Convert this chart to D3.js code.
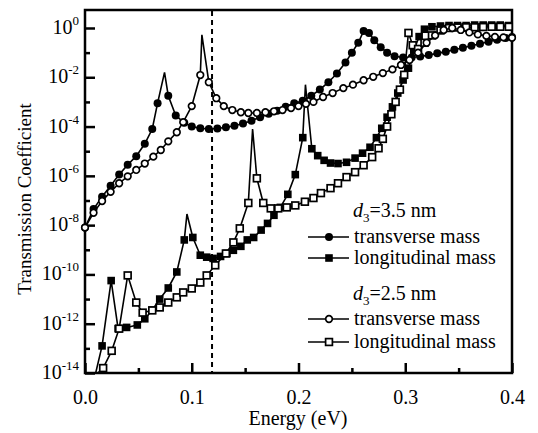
<!DOCTYPE html>
<html>
<head>
<meta charset="utf-8">
<script src="https://cdn.jsdelivr.net/npm/d3@7"></script>
<style>
  body { margin: 0; background: #fff; }
</style>
</head>
<body>
<script>
// energies (eV) and log10 of transmission
// d3 = 3.5 nm, transverse mass (filled circles)
let t35E = [0, 0.008, 0.016, 0.024, 0.032, 0.040, 0.048, 0.056, 0.063, 0.068, 0.078, 0.085, 0.093, 0.100, 0.108, 0.116, 0.124, 0.132, 0.140, 0.148, 0.156, 0.164, 0.172, 0.180, 0.188, 0.196, 0.204, 0.212, 0.220, 0.228, 0.236, 0.244, 0.250, 0.256, 0.261, 0.266, 0.271, 0.277, 0.283, 0.290, 0.298, 0.306, 0.314, 0.322, 0.330, 0.338, 0.346, 0.354, 0.362, 0.370, 0.378, 0.386, 0.394, 0.400]
let t35L = [-8.1, -7.35, -6.85, -6.4, -5.95, -5.55, -5.2, -4.7, -4.1, -3.05, -2.75, -3.55, -3.85, -4.0, -4.07, -4.1, -4.08, -4.03, -3.97, -3.88, -3.76, -3.62, -3.48, -3.36, -3.2, -3.05, -2.95, -2.75, -2.5, -2.2, -1.85, -1.4, -1.0, -0.6, -0.12, -0.2, -0.5, -0.78, -1.0, -1.15, -1.2, -1.2, -1.16, -1.1, -1.03, -0.96, -0.88, -0.8, -0.72, -0.64, -0.56, -0.48, -0.41, -0.37]
let t35TipE = [0.0745]
let t35TipL = [-1.8]

// d3 = 3.5 nm, longitudinal mass (filled squares)
let l35E = [0.016, 0.0245, 0.031, 0.039, 0.049, 0.056, 0.063, 0.070, 0.078, 0.086, 0.093, 0.101, 0.108, 0.114, 0.120, 0.127, 0.133, 0.139, 0.146, 0.152, 0.158, 0.165, 0.171, 0.177, 0.183, 0.190, 0.197, 0.204, 0.2125, 0.218, 0.224, 0.230, 0.237, 0.245, 0.253, 0.260, 0.267, 0.273, 0.278, 0.283, 0.288, 0.293, 0.298, 0.303, 0.308, 0.313, 0.318, 0.325, 0.333, 0.341, 0.349, 0.357, 0.365, 0.373, 0.381, 0.389, 0.397]
let l35L = [-12.9, -10.25, -12.2, -12.15, -12.05, -11.8, -11.45, -11.0, -10.55, -9.9, -8.6, -8.5, -9.22, -9.3, -9.35, -9.27, -9.15, -9.02, -8.86, -8.6, -8.5, -8.2, -7.93, -7.6, -7.28, -6.75, -5.95, -4.45, -4.9, -5.18, -5.37, -5.48, -5.5, -5.45, -5.28, -5.08, -4.84, -4.45, -4.07, -3.62, -3.2, -2.64, -2.11, -1.63, -0.9, -0.35, -0.05, 0.05, 0.08, 0.1, 0.1, 0.1, 0.12, 0.12, 0.12, 0.12, 0.1]
let l35TipE = [0.010, 0.0955, 0.2065]
let l35TipL = [-14.0, -7.55, -2.3]

// d3 = 2.5 nm, transverse mass (open circles)
let t25E = [0, 0.008, 0.016, 0.024, 0.032, 0.040, 0.048, 0.056, 0.064, 0.071, 0.078, 0.086, 0.092, 0.100, 0.108, 0.116, 0.123, 0.130, 0.138, 0.146, 0.153, 0.161, 0.169, 0.177, 0.185, 0.193, 0.200, 0.207, 0.214, 0.223, 0.232, 0.242, 0.251, 0.261, 0.270, 0.279, 0.288, 0.296, 0.304, 0.312, 0.320, 0.328, 0.336, 0.344, 0.352, 0.360, 0.368, 0.376, 0.384, 0.392, 0.400]
let t25L = [-8.1, -7.5, -7.02, -6.65, -6.3, -6.02, -5.76, -5.5, -5.22, -4.95, -4.6, -4.23, -3.82, -3.17, -1.91, -2.2, -2.85, -3.17, -3.33, -3.42, -3.45, -3.45, -3.42, -3.38, -3.33, -3.25, -3.17, -3.08, -3.0, -2.8, -2.64, -2.44, -2.3, -2.12, -1.98, -1.83, -1.68, -1.5, -1.3, -1.0, -0.6, -0.3, -0.08, 0.0, -0.08, -0.18, -0.26, -0.32, -0.36, -0.38, -0.4]
let t25TipE = [0.1095]
let t25TipL = [-0.28]

// d3 = 2.5 nm, longitudinal mass (open squares)
let l25E = [0.017, 0.025, 0.032, 0.040, 0.048, 0.054, 0.063, 0.070, 0.078, 0.086, 0.092, 0.100, 0.108, 0.114, 0.122, 0.132, 0.139, 0.145, 0.153, 0.161, 0.167, 0.174, 0.181, 0.189, 0.197, 0.206, 0.214, 0.221, 0.230, 0.237, 0.245, 0.253, 0.261, 0.269, 0.275, 0.279, 0.283, 0.287, 0.291, 0.295, 0.299, 0.303, 0.307, 0.312, 0.318, 0.325, 0.333, 0.341, 0.349, 0.357, 0.365, 0.373, 0.381, 0.389, 0.397]
let l25L = [-13.8, -13.1, -12.2, -10.04, -11.14, -11.55, -11.46, -11.34, -11.14, -10.93, -10.73, -10.57, -10.33, -10.04, -9.63, -9.15, -8.7, -8.13, -7.1, -6.1, -7.1, -7.32, -7.32, -7.28, -7.2, -7.05, -6.9, -6.7, -6.5, -6.3, -6.05, -5.85, -5.57, -5.24, -4.88, -4.5, -4.0, -3.5, -3.0, -2.5, -1.9, -0.2, -0.7, -0.85, -0.6, -0.3, -0.1, 0.0, 0.02, 0.03, 0.03, 0.04, 0.05, 0.05, 0.05]
let l25TipE = [0.012, 0.157]
let l25TipL = [-14.0, -4.1]

let xTicks = [0, 0.1, 0.2, 0.3, 0.4]
let xMinor = [0.05, 0.15, 0.25, 0.35]
let yExp = [0, -2, -4, -6, -8, -10, -12, -14]
let yMinorExp = [-1, -3, -5, -7, -9, -11, -13]
let markE = 0.119 // dashed reference line

const FONT = "'Liberation Serif'"

let svg = d3.select('body').append('svg')
            .attr('width', 538)
            .attr('height', 433)

let x = d3.scaleLinear().domain([0, 0.4]).range([85, 512])
let y = d3.scaleLog().domain([1e-14, Math.pow(10, 0.73)]).range([373, 10])

// axes, ticks inward
let gx = svg.append('g').attr('transform', 'translate(0,373)')
gx.call(d3.axisBottom(x).tickValues(xTicks).tickSize(-10).tickSizeOuter(0)
          .tickPadding(17).tickFormat(d3.format('.1f')))
gx.call(g => g.append('g').call(d3.axisBottom(x).tickValues(xMinor).tickSize(-5).tickFormat('')))
gx.selectAll('.domain').remove()
gx.selectAll('text').attr('font-size', 20)

let gy = svg.append('g').attr('transform', 'translate(85,0)')
gy.call(d3.axisLeft(y).tickValues(yExp.map(e => Math.pow(10, e))).tickSize(-10).tickFormat(''))
gy.call(g => g.append('g').call(d3.axisLeft(y).tickValues(yMinorExp.map(e => Math.pow(10, e))).tickSize(-5).tickFormat('')))
gy.selectAll('.domain').remove()
svg.selectAll('.tick line').attr('stroke', '#000').attr('stroke-width', 2.5)

// y tick labels as 10^n
let yl = svg.append('g').selectAll('text').data(yExp).enter()
            .append('text')
            .attr('x', 79)
            .attr('y', d => y(Math.pow(10, d)) + 6)
            .attr('text-anchor', 'end')
            .attr('font-size', 20)
yl.append('tspan').text('10')
yl.append('tspan').attr('font-size', 13).attr('dy', -9).text(d => d === 0 ? '0' : String(d))

// frame
svg.append('rect')
   .attr('x', 85).attr('y', 10).attr('width', 427).attr('height', 363)
   .attr('fill', 'none').attr('stroke', '#000').attr('stroke-width', 2.5)

// dashed line
svg.append('line')
   .attr('x1', x(markE)).attr('x2', x(markE))
   .attr('y1', 11).attr('y2', 372)
   .attr('stroke', '#000').attr('stroke-width', 2).attr('stroke-dasharray', '5,4')

// axis titles
svg.append('text').attr('x', 298).attr('y', 425).attr('text-anchor', 'middle')
   .attr('font-size', 20).text('Energy (eV)')
svg.append('text').attr('transform', 'translate(31,199) rotate(-90)')
   .attr('text-anchor', 'middle').attr('font-size', 19).text('Transmission Coefficient')

let line = d3.line().x(d => x(d[0])).y(d => y(Math.pow(10, d[1])))

function drawMarker(sel, kind) {
  if (kind === 'fc') sel.append('circle').attr('r', 4).attr('fill', '#000')
  if (kind === 'oc') sel.append('circle').attr('r', 3.3).attr('fill', '#fff').attr('stroke', '#000').attr('stroke-width', 1.7)
  if (kind === 'fs') sel.append('rect').attr('x', -3.8).attr('y', -3.8).attr('width', 7.6).attr('height', 7.6).attr('fill', '#000')
  if (kind === 'os') sel.append('rect').attr('x', -3.4).attr('y', -3.4).attr('width', 6.8).attr('height', 6.8).attr('fill', '#fff').attr('stroke', '#000').attr('stroke-width', 1.7)
}

function drawSeries(E, L, tipE, tipL, kind) {
  let pts = E.map((e, i) => [e, L[i]])
  let all = pts.concat(tipE.map((e, i) => [e, tipL[i]])).sort((a, b) => a[0] - b[0])
  svg.append('path').attr('d', line(all))
     .attr('fill', 'none').attr('stroke', '#000').attr('stroke-width', 1.6)
  svg.append('g').selectAll('g').data(pts).enter().append('g')
     .attr('transform', d => 'translate(' + x(d[0]) + ',' + y(Math.pow(10, d[1])) + ')')
     .each(function() { drawMarker(d3.select(this), kind) })
}

drawSeries(l35E, l35L, l35TipE, l35TipL, 'fs')
drawSeries(l25E, l25L, l25TipE, l25TipL, 'os')
drawSeries(t35E, t35L, t35TipE, t35TipL, 'fc')
drawSeries(t25E, t25L, t25TipE, t25TipL, 'oc')

// legend
function legendTitle(yPos, val) {
  let t = svg.append('text').attr('x', 353).attr('y', yPos).attr('font-size', 20)
  t.append('tspan').attr('font-style', 'italic').text('d')
  t.append('tspan').attr('font-size', 13).attr('dy', 5).text('3')
  t.append('tspan').attr('dy', -5).text('=' + val + ' nm')
}
function legendRow(yPos, kind, label) {
  svg.append('line').attr('x1', 308).attr('x2', 349).attr('y1', yPos).attr('y2', yPos)
     .attr('stroke', '#000').attr('stroke-width', 1.6)
  drawMarker(svg.append('g').attr('transform', 'translate(329,' + yPos + ')'), kind)
  svg.append('text').attr('x', 354).attr('y', yPos + 6).attr('font-size', 20).text(label)
}
legendTitle(217, '3.5')
legendRow(237, 'fc', 'transverse mass')
legendRow(258, 'fs', 'longitudinal mass')
legendTitle(300, '2.5')
legendRow(319, 'oc', 'transverse mass')
legendRow(342, 'os', 'longitudinal mass')

// serif everywhere
svg.selectAll('text').style('font-family', FONT).attr('fill', '#000')
</script>
</body>
</html>
